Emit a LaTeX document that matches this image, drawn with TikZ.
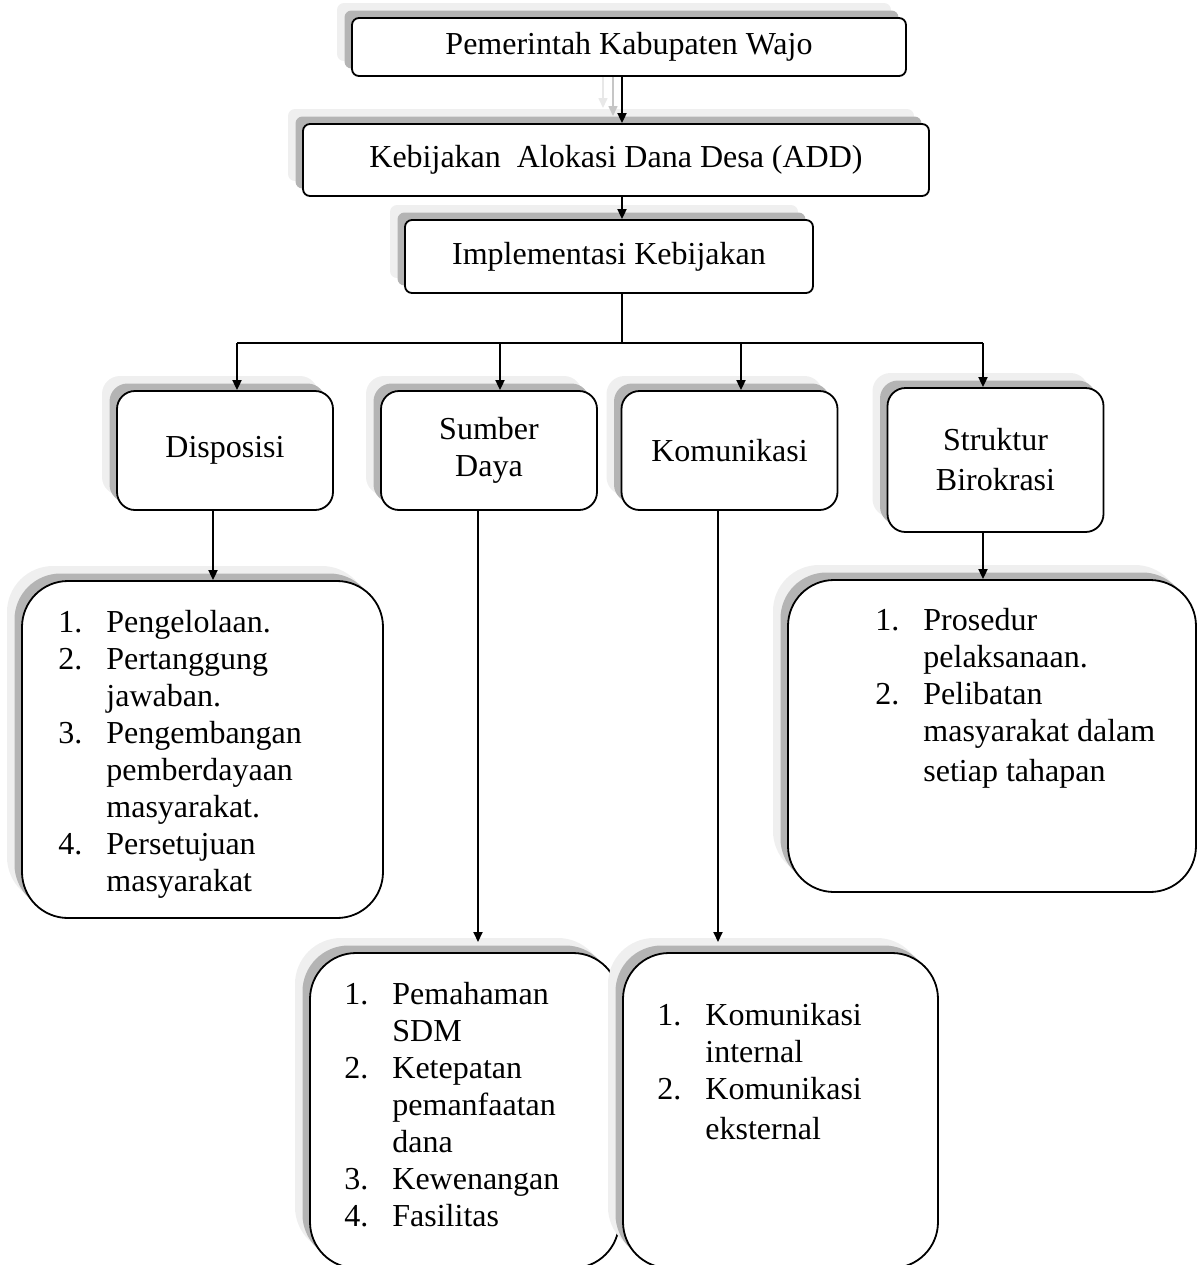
\documentclass[tikz,border=0pt]{standalone}
\usepackage{fontspec}
\setmainfont{Liberation Serif}
\usetikzlibrary{arrows.meta,shadows}
\definecolor{shdark}{HTML}{B4B4B4}
\definecolor{shlight}{HTML}{EFEFEF}
\newcommand{\itemrows}[1]{\begin{tabular}[t]{@{}p{24pt}@{}l@{}}#1\end{tabular}}
\begin{document}
\begin{tikzpicture}[x=0.5pt, y=-0.5pt, font=\fontsize{16}{18.5}\selectfont,
    box/.style={draw, fill=white, line width=0.9pt, inner sep=0pt, align=center,
      general shadow={fill=shlight, draw=none, shadow xshift=-7.5pt, shadow yshift=7.5pt},
      general shadow={fill=shdark, draw=none, shadow xshift=-3.75pt, shadow yshift=3.75pt}},
    topbox/.style={box, rounded corners=3.5pt},
    midbox/.style={box, rounded corners=9pt, minimum width=108pt},
    listbox/.style={box, rounded corners=23pt},
    listtext/.style={anchor=base west, inner sep=0pt},
    arr/.style={line width=0.9pt, -{Triangle[length=5pt,width=4.5pt]}},
    ghost/.style={line width=0.8pt, -{Triangle[length=5pt,width=4.5pt]}}]
    \useasboundingbox (0,0) rectangle (1197,1265);
    \node[topbox, minimum width=277pt, minimum height=29pt] (pemda) at (629,47) {Pemerintah Kabupaten Wajo};
    \node[topbox, minimum width=313pt, minimum height=36pt] (kebijakan) at (616,160) {Kebijakan\ \ Alokasi Dana Desa (ADD)};
    \node[topbox, minimum width=204pt, minimum height=36.5pt] (implementasi) at (609,256.5) {Implementasi Kebijakan};
    \node[midbox, minimum height=59.5pt] (disposisi) at (225,450.5) {Disposisi};
    \node[midbox, minimum height=59.5pt] (sumber) at (489,450.5) {Sumber\\Daya};
    \node[midbox, minimum height=59.5pt] (komunikasi) at (729.5,450.5) {Komunikasi};
    \node[midbox, minimum height=72pt] (struktur) at (995.5,460) {Struktur\\[1.5pt]Birokrasi};
    \node[listbox, minimum width=180.5pt, minimum height=168.5pt] (displist) at (202.5,749.5) {};
    \node[listbox, minimum width=204pt, minimum height=156pt] (struklist) at (992,736) {};
    \node[listbox, minimum width=154.5pt, minimum height=157.5pt] (sumberlist) at (464.5,1110.5) {};
    \node[listbox, minimum width=157.5pt, minimum height=157.5pt] (komlist) at (780.5,1110.5) {};
    \node[listtext] (disptext) at (58,632) {\itemrows{1. & Pengelolaan.\\ 2. & Pertanggung\\ & jawaban.\\ 3. & Pengembangan\\ & pemberdayaan\\ & masyarakat.\\ 4. & Persetujuan\\ & masyarakat}};
    \node[listtext] (struktext) at (875,630) {\itemrows{1. & Prosedur\\ & pelaksanaan.\\ 2. & Pelibatan\\ & masyarakat dalam\\[1.5pt] & setiap tahapan}};
    \node[listtext] (sumbertext) at (344,1004) {\itemrows{1. & Pemahaman\\ & SDM\\ 2. & Ketepatan\\ & pemanfaatan\\ & dana\\ 3. & Kewenangan\\ 4. & Fasilitas}};
    \node[listtext] (komtext) at (657,1025) {\itemrows{1. & Komunikasi\\ & internal\\ 2. & Komunikasi\\[1.5pt] & eksternal}};
    \coordinate (trunk) at (622,343);
    \coordinate (g1) at (603,108);
    \coordinate (g2) at (613,116);
    \draw[ghost, gray!18] (pemda.south -| g1) -- (g1);
    \draw[ghost, gray!45] (pemda.south -| g2) -- (g2);
    \draw[arr] (pemda.south -| trunk) -- (kebijakan.north -| trunk);
    \draw[arr] (kebijakan.south -| trunk) -- (implementasi.north -| trunk);
    \draw[line width=0.9pt] (implementasi.south -| trunk) -- (trunk);
    \coordinate (d1) at (237,343);
    \coordinate (d2) at (500,343);
    \coordinate (d3) at (741,343);
    \coordinate (d4) at (983,343);
    \draw[line width=0.9pt] (d1) -- (d4);
    \draw[arr] (d1) -- (d1 |- disposisi.north);
    \draw[arr] (d2) -- (d2 |- sumber.north);
    \draw[arr] (d3) -- (d3 |- komunikasi.north);
    \draw[arr] (d4) -- (d4 |- struktur.north);
    \coordinate (e1) at (213,0);
    \coordinate (e2) at (478,942);
    \coordinate (e3) at (718,942);
    \draw[arr] (disposisi.south -| e1) -- (displist.north -| e1);
    \draw[arr] (sumber.south -| e2) -- (e2);
    \draw[arr] (komunikasi.south -| e3) -- (e3);
    \draw[arr] (struktur.south -| d4) -- (struklist.north -| d4);
\end{tikzpicture}
\end{document}
